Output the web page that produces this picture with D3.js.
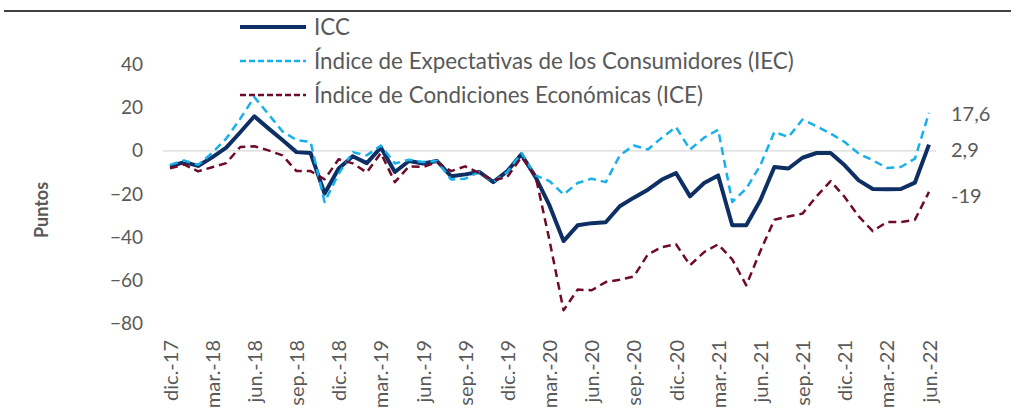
<!DOCTYPE html>
<html>
<head>
<meta charset="utf-8">
<script src="https://cdn.jsdelivr.net/npm/d3@7"></script>
<style>
  body { margin: 0; background: #fff; }
  svg text { font-family: Lato, "Open Sans", sans-serif; fill: #595959; }
</style>
</head>
<body>
<div id="chart"></div>
<script>
// monthly categories, dic-17 .. jun-22
const months = [
  'dic.-17', 'ene.-18', 'feb.-18', 'mar.-18', 'abr.-18', 'may.-18', 'jun.-18', 'jul.-18', 'ago.-18', 'sep.-18', 'oct.-18', 'nov.-18',
  'dic.-18', 'ene.-19', 'feb.-19', 'mar.-19', 'abr.-19', 'may.-19', 'jun.-19', 'jul.-19', 'ago.-19', 'sep.-19', 'oct.-19', 'nov.-19',
  'dic.-19', 'ene.-20', 'feb.-20', 'mar.-20', 'abr.-20', 'may.-20', 'jun.-20', 'jul.-20', 'ago.-20', 'sep.-20', 'oct.-20', 'nov.-20',
  'dic.-20', 'ene.-21', 'feb.-21', 'mar.-21', 'abr.-21', 'may.-21', 'jun.-21', 'jul.-21', 'ago.-21', 'sep.-21', 'oct.-21', 'nov.-21',
  'dic.-21', 'ene.-22', 'feb.-22', 'mar.-22', 'abr.-22', 'may.-22', 'jun.-22',
];

const icc = [
  -7.3, -5.2, -7.0, -3.0, 1.5, 8.6, 16.0, 10.4, 5.0, -0.6, -1.0, -19.8,
  -8.2, -2.5, -5.7, 1.5, -9.8, -4.7, -5.9, -4.7, -11.8, -10.9, -9.8, -14.5,
  -9.4, -1.6, -12.1, -25.3, -41.8, -34.5, -33.5, -33.1, -25.7, -21.7, -18.0, -13.3,
  -10.3, -21.1, -14.9, -11.4, -34.5, -34.5, -22.9, -7.5, -8.2, -3.2, -1.0, -1.0,
  -6.7, -13.7, -17.7, -17.8, -17.7, -14.7, 2.9,
];

const iec = [
  -6.5, -4.5, -6.5, -1.0, 5.7, 14.9, 24.9, 17.0, 9.0, 5.0, 4.1, -23.7,
  -10.6, -0.6, -2.1, 2.5, -5.9, -4.1, -5.2, -4.7, -13.3, -12.9, -9.8, -14.5,
  -9.8, -1.0, -11.4, -14.0, -20.2, -14.9, -12.9, -14.5, -2.1, 2.5, 0.6, 6.1,
  11.0, 0.6, 6.1, 9.8, -23.7, -17.5, -6.7, 8.7, 6.4, 14.5, 11.4, 8.0,
  4.1, -1.3, -4.4, -7.9, -7.5, -3.6, 17.6,
];

const ice = [
  -8.1, -6.3, -9.5, -7.6, -5.7, 1.8, 2.1, 0.2, -2.1, -9.4, -9.4, -13.2,
  -3.9, -5.8, -10.0, -1.0, -14.5, -7.2, -7.5, -5.2, -9.4, -7.2, -10.3, -13.7,
  -12.1, -2.9, -11.4, -41.5, -73.9, -64.3, -64.6, -60.8, -59.7, -58.2, -48.0, -44.6,
  -43.3, -53.0, -46.9, -43.3, -50.3, -62.3, -46.5, -31.9, -30.4, -29.1, -21.1, -14.0,
  -21.4, -30.4, -37.2, -33.0, -33.0, -31.9, -19.0,
];

const yTicks = [-80, -60, -40, -20, 0, 20, 40];
const endLabels = ['17,6', '2,9', '-19'];

const series = [
  {name: 'ICC', values: icc, color: '#0d2f64', width: 4, dash: null},
  {name: 'Índice de Expectativas de los Consumidores (IEC)', values: iec, color: '#17b0ea', width: 2.5, dash: '8,5'},
  {name: 'Índice de Condiciones Económicas (ICE)', values: ice, color: '#6e0a2a', width: 2.5, dash: '8,5'},
];

const width = 1016;
const height = 417;

const svg = d3.select('#chart')
    .append('svg')
    .attr('width', width)
    .attr('height', height);

// scales
const x = d3.scalePoint()
    .domain(months)
    .range([170, 929]);
const y = d3.scaleLinear()
    .domain([-80, 40])
    .range([323.5, 64.5]);

// top rule
svg.append('line')
    .attr('x1', 4).attr('x2', 1011)
    .attr('y1', 11).attr('y2', 11)
    .attr('stroke', '#000').attr('stroke-width', 1.6);

// zero line
svg.append('line')
    .attr('x1', 163).attr('x2', 936)
    .attr('y1', y(0)).attr('y2', y(0))
    .attr('stroke', '#d9d9d9').attr('stroke-width', 1.2);

// y axis
const yAxis = svg.append('g')
    .attr('transform', 'translate(145,0)')
    .call(d3.axisLeft(y).tickValues(yTicks).tickSize(0).tickPadding(2));
yAxis.select('.domain').remove();
yAxis.selectAll('text')
    .style('font-size', '19px')
    .style('font-family', 'Lato, sans-serif')
    .attr('fill', '#595959');

svg.append('text')
    .attr('transform', 'translate(48,' + 210 + ') rotate(-90)')
    .attr('text-anchor', 'middle')
    .style('font-size', '18px')
    .style('font-weight', 'bold')
    .text('Puntos');

// x axis (labels only, every third month)
const xAxis = svg.append('g')
    .attr('transform', 'translate(0,340)')
    .call(d3.axisBottom(x)
        .tickValues(months.filter((d, i) => i % 3 === 0))
        .tickSize(0)
        .tickPadding(0));
xAxis.select('.domain').remove();
xAxis.selectAll('text')
    .attr('transform', 'rotate(-90)')
    .attr('text-anchor', 'end')
    .attr('x', 0)
    .attr('y', 0)
    .attr('dy', '0.35em')
    .style('font-size', '20px')
    .style('font-family', 'Lato, sans-serif')
    .attr('fill', '#595959');

// lines
const line = d3.line()
    .x((d, i) => x(months[i]))
    .y((d) => y(d));

series.forEach((s) => {
  svg.append('path')
      .datum(s.values)
      .attr('fill', 'none')
      .attr('stroke', s.color)
      .attr('stroke-width', s.width)
      .attr('stroke-linejoin', 'round')
      .attr('stroke-dasharray', s.dash)
      .attr('d', line);
});

// end labels
series.forEach((s, k) => {
  svg.append('text')
      .attr('x', 951)
      .attr('y', [114, 150, 196][k])
      .attr('dy', '0.35em')
      .style('font-size', '20px')
      .text(endLabels[k]);
});

// legend
const legend = svg.append('g');
series.forEach((s, k) => {
  const ly = 27 + k * 34;
  legend.append('line')
      .attr('x1', 240).attr('x2', 306)
      .attr('y1', ly).attr('y2', ly)
      .attr('stroke', s.color)
      .attr('stroke-width', s.width)
      .attr('stroke-dasharray', s.dash ? '6,3' : null);
  legend.append('text')
      .attr('x', 314)
      .attr('y', ly)
      .attr('dy', '0.35em')
      .style('font-size', '22.4px')
      .text(s.name);
});
</script>
</body>
</html>
